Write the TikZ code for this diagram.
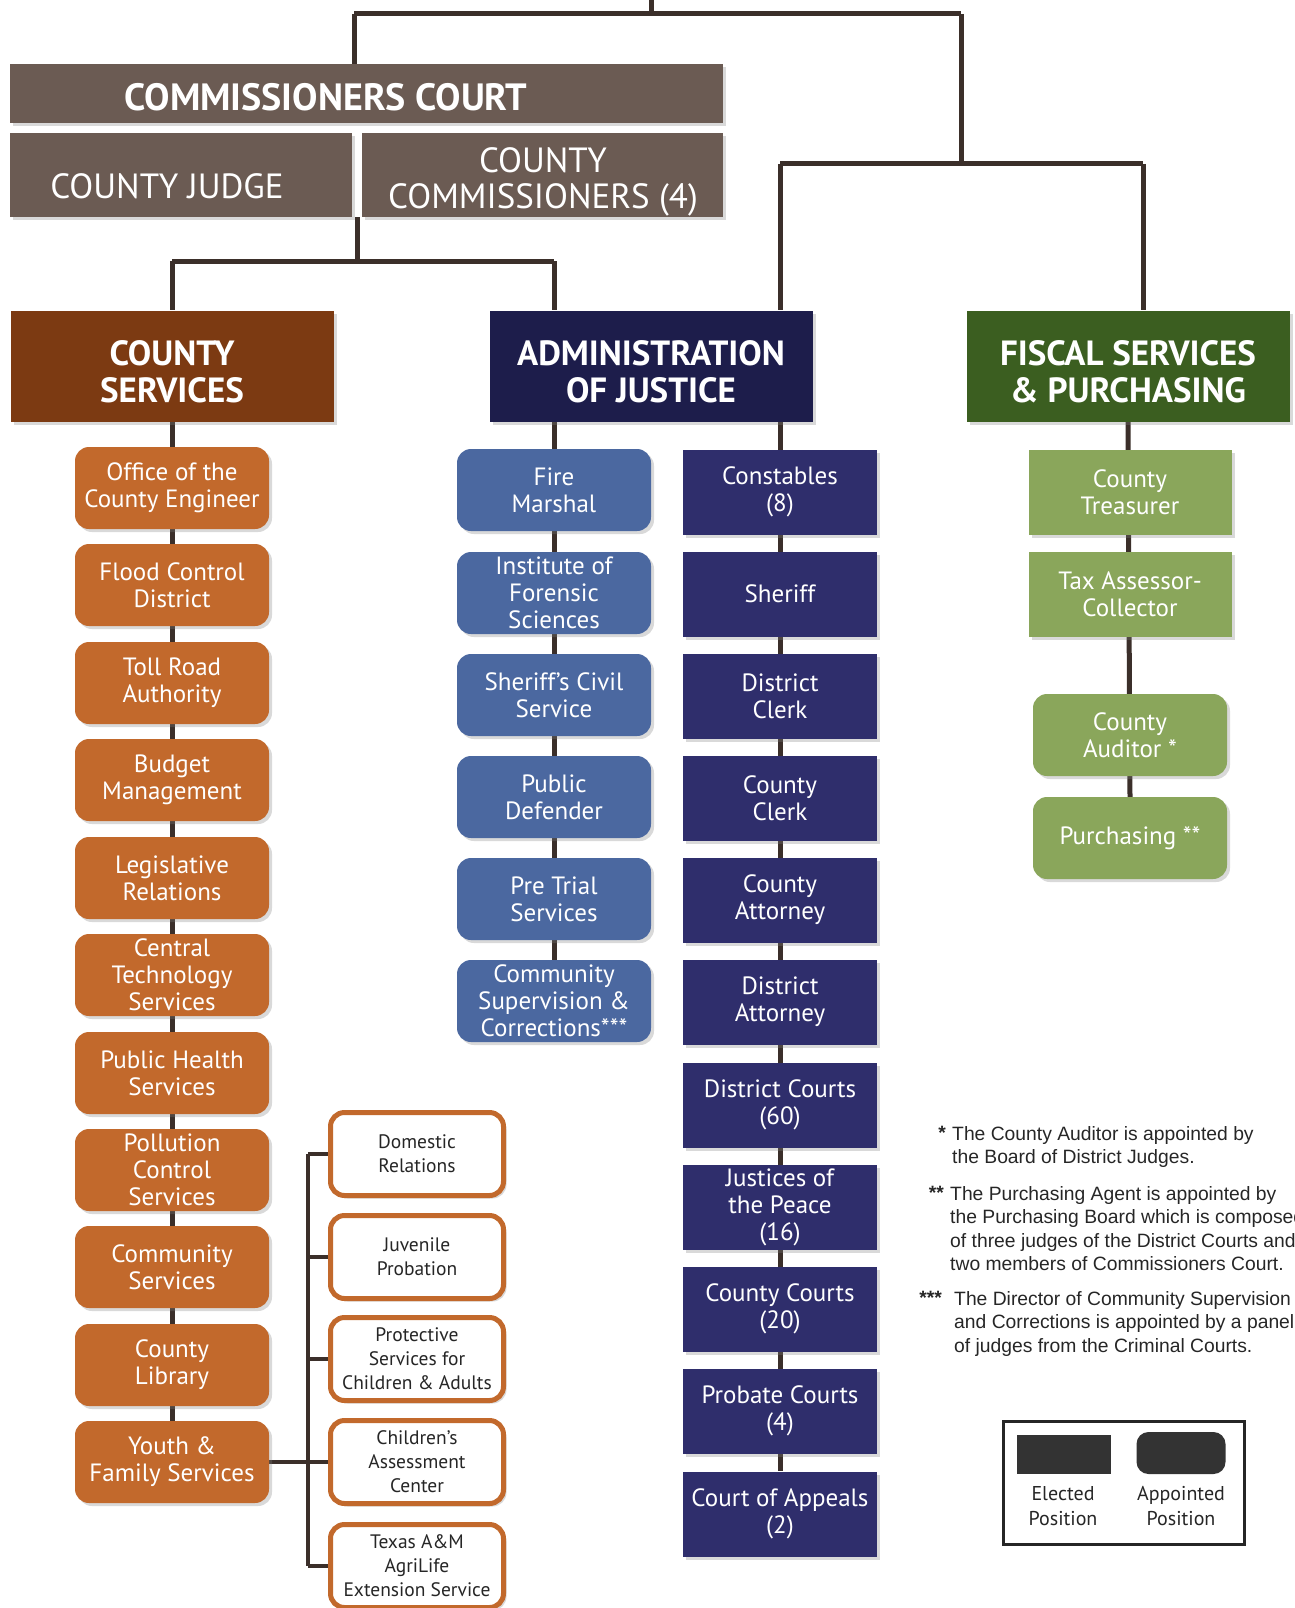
\documentclass[tikz,border=0pt]{standalone}
\usepackage{fontspec}
\setmainfont{PT Sans}
\newfontfamily\notefont{Liberation Sans}
\usetikzlibrary{backgrounds,shadows}
\definecolor{topc}{HTML}{6B5B53}
\definecolor{cshd}{HTML}{7C3A12}
\definecolor{orng}{HTML}{C2692C}
\definecolor{admhd}{HTML}{1D1D4B}
\definecolor{ltblue}{HTML}{4B68A0}
\definecolor{navy}{HTML}{2F2E6C}
\definecolor{fishd}{HTML}{3B5E20}
\definecolor{ltgreen}{HTML}{8AA65B}
\definecolor{linec}{HTML}{3B2F2A}
\begin{document}
\begin{tikzpicture}[x=1pt,y=-1pt,
  sh/.style={drop shadow={shadow xshift=3pt,shadow yshift=-3pt,opacity=0.3}},
  base/.style={inner sep=0pt,align=center,text=white,font=\fontsize{25}{27}\selectfont},
  elect/.style={base,rectangle,sh,minimum width=194pt,minimum height=85pt},
  appt/.style={base,rounded corners=14pt,sh,minimum width=194pt,minimum height=82pt},
  hdr/.style={base,sh,minimum width=323pt,minimum height=111pt},
  hdrtext/.style={base,font=\bfseries\fontsize{35}{37}\selectfont},
  court/.style={base,sh,fill=topc},
  courttext/.style={base,font=\fontsize{35}{32}\selectfont},
  subbox/.style={base,text=black!85,fill=white,draw=orng,line width=5pt,rounded corners=14pt,
     minimum width=173pt,minimum height=83pt,font=\fontsize{19.5}{24}\selectfont,sh},
  conn/.style={draw=linec,line width=5pt},
  stub/.style={draw=linec,line width=3.5pt},
  note/.style={inner sep=0pt,anchor=north west,align=left,font=\notefont\fontsize{19.3}{23.5}\selectfont,text=black!85},
  star/.style={inner sep=0pt,anchor=north east,font=\notefont\bfseries\fontsize{19.3}{23.5}\selectfont,text=black!85}
]
\useasboundingbox (0,0) rectangle (1294,1608);

% ---- Commissioners court
\node[court,minimum width=713pt,minimum height=59pt,anchor=north west] (cc) at (10,64) {};
\node[base,font=\bfseries\fontsize{38}{38}\selectfont] (cctext) at (326,97) {COMMISSIONERS COURT};
\node[court,minimum width=342pt,minimum height=84pt,anchor=north west] (cj) at (10,133) {};
\node[courttext] (cjtext) at (167,186) {COUNTY JUDGE};
\node[court,minimum width=361pt,minimum height=84pt,anchor=north west] (ccm) at (362,133) {};
\node[courttext,anchor=base] (ccmtext1) at (543,173) {COUNTY};
\node[courttext,anchor=base] (ccmtext2) at (543,208) {COMMISSIONERS (4)};

% ---- Headers
\node[hdr,fill=cshd] (cs) at (172,366) {};
\node[hdrtext] (cst) at (172,372) {COUNTY\\SERVICES};
\node[hdr,fill=admhd] (adm) at (651,366) {};
\node[hdrtext] (admt) at (651,372) {ADMINISTRATION\\OF JUSTICE};
\node[hdr,fill=fishd] (fis) at (1128,366) {};
\node[hdrtext] (fist) at (1128,372) {FISCAL SERVICES\\\& PURCHASING};

% ---- County services column
\foreach \n/\y/\t in {1/488/{Office of the\\County Engineer},2/585/{Flood Control\\District},
  3/683/{Toll Road\\Authority},4/780/{Budget\\Management},5/878/{Legislative\\Relations},
  6/975/{Central\\Technology\\Services},7/1073/{Public Health\\Services},
  8/1170/{Pollution\\Control\\Services},9/1267/{Community\\Services},10/1365/{County\\Library},
  11/1462/{Youth \&\\Family Services}}
  \node[appt,fill=orng] (cs\n) at (172,\y) {\t};

% ---- Sub boxes
\foreach \n/\y/\t in {1/1154/{Domestic\\Relations},2/1257/{Juvenile\\Probation},
  3/1359/{Protective\\Services for\\Children \& Adults},4/1462/{Children's\\Assessment\\Center},
  5/1566/{Texas A\&M\\AgriLife\\Extension Service}}
  \node[subbox] (sb\n) at (417,\y) {\t};

% ---- Administration of justice
\foreach \n/\y/\t in {1/490/{Fire\\Marshal},2/593/{Institute of\\Forensic\\Sciences},
  3/695/{Sheriff's Civil\\Service},4/797/{Public\\Defender},5/899/{Pre Trial\\Services},
  6/1001/{Community\\Supervision \&\\Corrections***}}
  \node[appt,fill=ltblue] (al\n) at (554,\y) {\t};
\foreach \n/\y/\t in {1/492/{Constables\\(8)},2/594/{Sheriff},3/696/{District\\Clerk},
  4/798/{County\\Clerk},5/900/{County\\Attorney},6/1002/{District\\Attorney},
  7/1105/{District Courts\\(60)},8/1207/{Justices of\\the Peace\\(16)},9/1309/{County Courts\\(20)},
  10/1411/{Probate Courts\\(4)},11/1514/{Court of Appeals\\(2)}}
  \node[elect,fill=navy] (ar\n) at (780,\y) {\t};

% ---- Fiscal
\node[elect,fill=ltgreen,minimum width=203pt] (f1) at (1130,492) {County\\Treasurer};
\node[elect,fill=ltgreen,minimum width=203pt] (f2) at (1130,594) {Tax Assessor-\\Collector};
\node[appt,fill=ltgreen] (f3) at (1130,735) {County\\Auditor *};
\node[appt,fill=ltgreen] (f4) at (1130,838) {Purchasing **};

% ---- Connectors
\coordinate (topin) at (651,0);
\coordinate (tl) at (354,14);
\coordinate (tr) at (961,14);
\coordinate (jr) at (961,164);
\coordinate (jl) at (357,261);
\begin{pgfonlayer}{background}
  \draw[conn] (topin) -- (topin |- tl);
  \draw[conn] (tl) -- (tr);
  \draw[conn] (tl) -- (tl |- cc.north);
  \draw[conn] (tr) -- (jr);
  \draw[conn] (jr -| ar1) -- (jr -| 1143,0);
  \draw[conn] (jr -| ar1) -- (ar1 |- adm.north);
  \draw[conn] (jr -| 1143,0) -- (fis.north -| 1143,0);
  \draw[conn] (cj.south east) ++(5,0) coordinate (cjm) -- (cjm |- jl);
  \draw[conn] (jl -| cs.north) -- (jl -| al1);
  \draw[conn] (jl -| cs.north) -- (cs.north);
  \draw[conn] (jl -| al1) -- (al1 |- adm.north);
  \draw[conn] (cs.south) -- (cs11.north);
  \draw[conn] (al1 |- adm.south) -- (al6.north);
  \draw[conn] (ar1 |- adm.south) -- (ar11.north);
  \draw[conn] (fis.south) -- (f4.north);
  \coordinate (bus) at (308,1462);
  \draw[stub] (cs11.east) -- (bus);
  \draw[stub] (bus |- sb1) -- (bus |- sb5);
  \foreach \n in {1,...,5} \draw[stub] (bus |- sb\n) -- (sb\n.west);
\end{pgfonlayer}

% ---- Notes
\node[star] (s1) at (946,1126) {*};
\node[note] (n1) at (952,1126) {The County Auditor is appointed by\\the Board of District Judges.};
\node[star] (s2) at (944,1186) {**};
\node[note] (n2) at (950,1186) {The Purchasing Agent is appointed by\\the Purchasing Board which is composed\\of three judges of the District Courts and\\two members of Commissioners Court.};
\node[star] (s3) at (942,1291) {***};
\node[note] (n3) at (954,1291) {The Director of Community Supervision\\and Corrections is appointed by a panel\\of judges from the Criminal Courts.};

% ---- Legend
\node[draw=black!85,line width=3pt,minimum width=241pt,minimum height=123pt,inner sep=0pt,anchor=north west] (leg) at (1002,1420) {};
\node[fill=black!80,minimum width=94pt,minimum height=39pt,inner sep=0pt] (le) at (1064,1454) {};
\node[fill=black!80,rounded corners=12pt,minimum width=89pt,minimum height=42pt,inner sep=0pt] (la) at (1181,1453) {};
\node[inner sep=0pt,align=center,font=\fontsize{20}{25}\selectfont,text=black!85] (let) at (1063,1506) {Elected\\Position};
\node[inner sep=0pt,align=center,font=\fontsize{20}{25}\selectfont,text=black!85] (lat) at (1181,1506) {Appointed\\Position};
\end{tikzpicture}
\end{document}
